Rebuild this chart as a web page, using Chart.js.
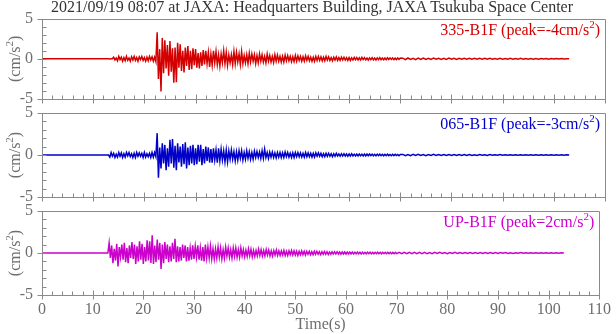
<!DOCTYPE html>
<html><head><meta charset="utf-8">
<script src="https://cdn.jsdelivr.net/npm/chart.js@4"></script>
<style>
html,body{margin:0;padding:0;background:#fff;width:616px;height:334px;overflow:hidden}
#wrap{position:relative;width:616px;height:334px}
canvas{position:absolute;left:0;top:0}
#title{position:absolute;left:4px;top:-2px;width:616px;text-align:center;font:16px "Liberation Serif";color:#333;white-space:nowrap}
</style></head><body>
<div id="wrap">
<canvas id="c0" width="616" height="334"></canvas>
<canvas id="c1" width="616" height="334"></canvas>
<canvas id="c2" width="616" height="334"></canvas>
<div id="title">2021/09/19 08:07 at JAXA: Headquarters Building, JAXA Tsukuba Space Center</div>
</div>
<script>
// ---- data ----
const panelNames = ['335-B1F', '065-B1F', 'UP-B1F'];
const panelPeaks = [-4, -3, 2];
const xTickValues = [0, 10, 20, 30, 40, 50, 60, 70, 80, 90, 100, 110];
const yTickValues = [-5, 0, 5];
// samples: dense part starts at 12 s every 0.25 s (to 70 s), tail part starts at 70.5 s every 0.5 s
const denseStart = 12, denseStep = 0.25, tailStart = 70.5, tailStep = 0.5;

const redDense = [
  0,0,0.01,0, 0,-0.01,0.02,0,
  0.2,-0.15,0.1,-0.25, 0.3,-0.1,0.2,-0.3, 0.15,-0.25,0.3,-0.2, 0.1,-0.3,0.25,-0.15,
  0.3,-0.2,0.15,-0.3, 0.25,-0.1,0.3,-0.2, 0.15,-0.3,0.2,-0.25, 0.3,-0.15,0.25,-0.3,
  0.2,-0.35,3.3,-2.5, 1.2,-4.05,2.6,-1.8, 2.3,-1.2,1.7,-2.1, 2.2,-1.6,1.3,-2.97,
  1.4,-2.9,2.0,-1.1, 1.8,-1.5,1.0,-1.7, 1.4,-0.9,1.6,-1.4, 1.0,-1.3,1.3,-0.8,
  1.2,-1.1,0.7,-1.2, 0.8,-0.9,1.1,-0.7, 1.0,-0.6,0.8,-1.0, 0.6,-0.8,1.0,-0.5,
  0.9,-0.7,0.5,-0.9, 0.6,-0.5,1.0,-0.6, 0.8,-0.8,0.5,-0.5, 0.5,-0.7,0.9,-0.6,
  0.8,-0.4,0.6,-0.7, 0.9,-0.6,0.4,-0.5, 0.5,-0.6,0.7,-0.4, 0.6,-0.3,0.5,-0.6,
  0.4,-0.5,0.6,-0.3, 0.5,-0.4,0.3,-0.5, 0.6,-0.3,0.4,-0.4, 0.3,-0.45,0.5,-0.3,
  0.45,-0.3,0.3,-0.4, 0.3,-0.4,0.45,-0.25, 0.4,-0.25,0.3,-0.35, 0.25,-0.35,0.4,-0.3,
  0.35,-0.2,0.3,-0.3, 0.25,-0.3,0.35,-0.2, 0.3,-0.25,0.2,-0.3, 0.2,-0.3,0.3,-0.2,
  0.3,-0.2,0.25,-0.25, 0.2,-0.25,0.3,-0.15, 0.25,-0.2,0.15,-0.25, 0.2,-0.15,0.25,-0.2,
  0.15,-0.2,0.2,-0.15, 0.2,-0.15,0.15,-0.2, 0.15,-0.2,0.12,-0.15, 0.18,-0.12,0.15,-0.15,
  0.12,-0.15,0.18,-0.1, 0.15,-0.12,0.1,-0.15, 0.12,-0.1,0.15,-0.12, 0.1,-0.15,0.12,-0.1,
  0.15,-0.1,0.1,-0.12, 0.1,-0.12,0.12,-0.08, 0.12,-0.08,0.1,-0.1, 0.08,-0.1,0.1,-0.08,
  0.1
];
const redTail = [
  0.08,-0.1,0.1,-0.08,0.07,-0.1,0.08,-0.07,0.1,-0.08,
  0.07,-0.08,0.08,-0.06,0.07,-0.08,0.06,-0.07,0.08,-0.06,
  0.06,-0.07,0.05,-0.06,0.07,-0.05,0.06,-0.06,0.05,-0.06,
  0.05,-0.05,0.06,-0.04,0.05,-0.05,0.04,-0.05,0.05,-0.04,
  0.04,-0.05,0.05,-0.04,0.04,-0.04,0.05,-0.04,0.04,-0.04,
  0.04,-0.04,0.03,-0.04,0.04,-0.03,0.03,-0.04,0.03,-0.03,
  0.03,-0.03,0.03,-0.02,0.02,0
];
const blueDense = [
  0,0,0.01,0, 0,-0.25,0.3,-0.15,
  0.2,-0.3,0.1,-0.25, 0.3,-0.15,0.25,-0.3, 0.15,-0.25,0.3,-0.1, 0.3,-0.2,0.15,-0.3,
  0.2,-0.3,0.3,-0.15, 0.25,-0.15,0.2,-0.3, 0.3,-0.25,0.15,-0.2, 0.2,-0.3,0.3,-0.25,
  0.3,-0.2,2.6,-2.7, 0.9,-1.6,1.4,-1.0, 1.2,-1.8,0.8,-1.4, 1.8,-1.0,1.9,-1.5,
  1.1,-1.8,1.4,-0.9, 1.0,-1.4,1.3,-1.1, 1.5,-1.6,0.9,-1.2, 1.1,-1.0,1.2,-1.2,
  0.8,-1.1,1.2,-0.8, 1.2,-1.2,0.7,-1.0, 1.0,-0.7,0.9,-0.9, 0.7,-0.9,0.8,-0.6,
  0.6,-0.9,0.8,-0.7, 0.7,-0.6,0.5,-0.8, 0.6,-0.8,0.5,-0.5, 0.6,-0.5,0.4,-0.7,
  0.4,-0.6,0.5,-0.4, 0.5,-0.6,0.3,-0.5, 0.5,-0.4,0.4,-0.5, 0.3,-0.5,0.45,-0.3,
  0.4,-0.3,0.35,-0.4, 0.5,-0.4,0.7,-0.3, 0.3,-0.4,0.35,-0.25, 0.35,-0.3,0.25,-0.35,
  0.3,-0.25,0.3,-0.3, 0.25,-0.3,0.35,-0.2, 0.3,-0.25,0.2,-0.3, 0.25,-0.3,0.3,-0.2,
  0.3,-0.2,0.25,-0.25, 0.2,-0.25,0.3,-0.2, 0.25,-0.2,0.2,-0.25, 0.2,-0.25,0.25,-0.15,
  0.25,-0.15,0.2,-0.2, 0.15,-0.2,0.2,-0.15, 0.2,-0.15,0.15,-0.2, 0.15,-0.15,0.2,-0.12,
  0.12,-0.15,0.15,-0.12, 0.15,-0.12,0.12,-0.15, 0.12,-0.12,0.15,-0.1, 0.1,-0.12,0.12,-0.1,
  0.12,-0.1,0.1,-0.12, 0.1,-0.12,0.12,-0.08, 0.12,-0.08,0.1,-0.1, 0.08,-0.1,0.1,-0.08,
  0.1,-0.08,0.08,-0.1, 0.08,-0.08,0.1,-0.07, 0.07,-0.08,0.08,-0.07, 0.08,-0.07,0.07,-0.08,
  0.07
];
const blueTail = [
  0.07,-0.08,0.06,-0.07,0.08,-0.06,0.07,-0.06,0.06,-0.07,
  0.06,-0.06,0.07,-0.05,0.06,-0.06,0.05,-0.06,0.06,-0.05,
  0.05,-0.06,0.05,-0.05,0.06,-0.05,0.05,-0.05,0.04,-0.05,
  0.05,-0.04,0.04,-0.05,0.05,-0.04,0.04,-0.04,0.05,-0.04,
  0.04,-0.04,0.04,-0.03,0.04,-0.04,0.03,-0.04,0.04,-0.03,
  0.03,-0.04,0.03,-0.03,0.04,-0.03,0.03,-0.03,0.03,-0.03,
  0.03,-0.02,0.02,-0.03,0.02,0
];
const magentaDense = [
  0,0,0.01,0, 0,1.2,-0.6,0.9,
  -1.2,0.5,-0.9,1.1, -1.6,0.7,-0.5,1.0, -0.8,1.2,-1.1,0.6, -1.2,0.9,-0.6,1.3,
  -0.7,1.0,-1.3,0.8, -1.0,1.4,-0.8,1.1, -1.3,0.7,-1.0,1.5, -0.9,1.4,-1.2,2.1,
  -1.3,0.9,-1.1,1.6, -0.8,1.2,-1.9,1.0, -1.2,1.3,-0.7,1.0, -1.1,0.8,-1.0,1.2,
  -0.7,1.7,-1.1,0.8, -1.0,0.7,-0.9,1.0, -0.6,0.9,-1.0,0.7, -0.9,0.6,-0.8,0.9,
  -0.7,0.8,-0.5,0.9, -0.8,0.6,-0.9,0.7, -1.0,1.0,-0.6,0.7, -0.6,0.8,-0.7,0.5,
  -0.7,0.5,-0.6,0.7, -0.5,0.6,-0.7,0.4, -0.6,0.7,-0.4,0.6, -0.5,0.4,-0.6,0.6,
  -0.4,0.6,-0.5,0.4, -0.5,0.6,-0.35,0.4, -0.45,0.35,-0.4,0.5, -0.35,0.45,-0.45,0.3,
  -0.4,0.3,-0.35,0.45, -0.3,0.4,-0.35,0.3, -0.35,0.4,-0.25,0.35, -0.35,0.25,-0.35,0.3,
  -0.25,0.35,-0.3,0.25, -0.3,0.25,-0.25,0.3, -0.3,0.2,-0.3,0.25, -0.2,0.3,-0.25,0.25,
  -0.25,0.2,-0.3,0.2, -0.2,0.25,-0.2,0.2, -0.25,0.2,-0.15,0.2, -0.2,0.15,-0.2,0.2,
  -0.15,0.2,-0.15,0.15, -0.2,0.15,-0.15,0.18, -0.15,0.15,-0.18,0.12, -0.15,0.15,-0.12,0.15,
  -0.12,0.15,-0.12,0.12, -0.15,0.12,-0.12,0.12, -0.12,0.12,-0.1,0.12, -0.12,0.1,-0.12,0.1,
  -0.1,0.12,-0.1,0.1, -0.12,0.1,-0.1,0.08, -0.1,0.1,-0.08,0.1, -0.1,0.08,-0.1,0.08,
  -0.08,0.1,-0.08,0.08, -0.1,0.08,-0.08,0.08, -0.08,0.08,-0.07,0.08, -0.08,0.07,-0.08,0.07,
  -0.08
];
const magentaTail = [
  0.08,-0.07,0.08,-0.08,0.07,-0.08,0.07,-0.07,0.08,-0.07,
  0.07,-0.07,0.06,-0.07,0.07,-0.06,0.07,-0.06,0.06,-0.07,
  0.06,-0.06,0.07,-0.06,0.06,-0.06,0.05,-0.06,0.06,-0.05,
  0.05,-0.06,0.05,-0.05,0.06,-0.05,0.05,-0.05,0.05,-0.05,
  0.05,-0.04,0.05,-0.05,0.04,-0.05,0.04,-0.04,0.05,-0.04,
  0.04,-0.04,0.04,-0.04,0.04,-0.03,0.04,-0.04,0.03,-0.04,
  0.03,-0.03,0.03,-0.03,0.02,0
];

// ---- layout / style ----
const denseSeries = [redDense, blueDense, magentaDense];
const tailSeries = [redTail, blueTail, magentaTail];
const lineColors = ['#d40000', '#0000c8', '#cc00cc'];
const panelTops = [15, 113, 211];
const panelBottoms = [99, 197, 295];
const FONT = 'Liberation Serif';
const TXT = '#6e6e6e';

function drawSup(ctx, main, sup, end, size, x, y) {
  ctx.font = size + 'px "' + FONT + '"';
  const wMain = ctx.measureText(main).width;
  const wEnd = ctx.measureText(end).width;
  ctx.font = Math.round(size * 0.68) + 'px "' + FONT + '"';
  const wSup = ctx.measureText(sup).width;
  ctx.textAlign = 'left';
  ctx.textBaseline = 'alphabetic';
  ctx.font = size + 'px "' + FONT + '"';
  ctx.fillText(main, x, y);
  ctx.font = Math.round(size * 0.68) + 'px "' + FONT + '"';
  ctx.fillText(sup, x + wMain, y - size * 0.42);
  ctx.font = size + 'px "' + FONT + '"';
  ctx.fillText(end, x + wMain + wSup, y);
  return wMain + wSup + wEnd;
}
function measureSup(ctx, main, sup, end, size) {
  ctx.font = size + 'px "' + FONT + '"';
  const a = ctx.measureText(main).width + ctx.measureText(end).width;
  ctx.font = Math.round(size * 0.68) + 'px "' + FONT + '"';
  return a + ctx.measureText(sup).width;
}

const framePlugin = {
  id: 'frame',
  afterDatasetsDraw(chart, args, opts) {
    const i = opts.index;
    const ctx = chart.ctx, a = chart.chartArea;
    const xs = chart.scales.x, ys = chart.scales.y;
    ctx.save();
    ctx.strokeStyle = '#8a8a8a';
    ctx.lineWidth = 1;
    const L = Math.round(a.left) + 0.5, R = Math.round(a.right) + 0.5;
    const T = Math.round(a.top) + 0.5, B = Math.round(a.bottom) + 0.5;
    ctx.beginPath();
    ctx.rect(L, T, R - L, B - T);
    for (let v = -5; v <= 5; v++) {
      const py = Math.round(ys.getPixelForValue(v)) + 0.5;
      if (v % 5 === 0) { ctx.moveTo(L - 5, py); ctx.lineTo(L + 4, py); }
      else { ctx.moveTo(L, py); ctx.lineTo(L + 4, py); }
    }
    for (let t = 0; t <= 110; t += 2) {
      const px = Math.round(xs.getPixelForValue(t)) + 0.5;
      if (t % 10 === 0) { ctx.moveTo(px, B + 4); ctx.lineTo(px, B - 5); }
      else { ctx.moveTo(px, B); ctx.lineTo(px, B - 4); }
    }
    ctx.stroke();
    // corner label
    ctx.fillStyle = lineColors[i];
    const main = panelNames[i] + ' (peak=' + panelPeaks[i] + 'cm/s';
    const w = measureSup(ctx, main, '2', ')', 16);
    drawSup(ctx, main, '2', ')', 16, a.right - 5 - w, a.top + 16);
    // y title
    ctx.fillStyle = TXT;
    const cy = (a.top + a.bottom) / 2;
    ctx.translate(20, cy);
    ctx.rotate(-Math.PI / 2);
    const wt = measureSup(ctx, '(cm/s', '2', ')', 16);
    drawSup(ctx, '(cm/s', '2', ')', 16, -wt / 2, 0);
    ctx.restore();
  }
};

function makeChart(i) {
  const pts = [{x: 0, y: 0}];
  denseSeries[i].forEach((v, k) => pts.push({x: denseStart + k * denseStep, y: v}));
  tailSeries[i].forEach((v, k) => pts.push({x: tailStart + k * tailStep, y: v}));
  const last = i === 2;
  const font = {family: FONT, size: 16};
  new Chart(document.getElementById('c' + i), {
    type: 'line',
    data: {datasets: [{data: pts, borderColor: lineColors[i], borderWidth: 1.5, pointRadius: 0, tension: 0, fill: false, borderJoinStyle: 'miter'}]},
    options: {
      responsive: false, animation: false, devicePixelRatio: 1, events: [],
      plugins: {legend: {display: false}, tooltip: {enabled: false}, frame: {index: i}},
      layout: {padding: {top: panelTops[i], bottom: last ? 0 : 334 - panelBottoms[i], left: 0, right: 11}},
      scales: {
        x: {
          type: 'linear', min: 0, max: 110, display: last,
          grid: {display: false, drawTicks: false}, border: {display: false},
          afterBuildTicks(s) { s.ticks = xTickValues.map(v => ({value: v})); },
          ticks: {color: TXT, font: font, padding: 5, maxRotation: 0, autoSkip: false},
          title: {display: true, text: 'Time(s)', color: TXT, font: font, padding: {top: 0, bottom: 0}},
          afterFit(s) { if (last) s.height = 334 - panelBottoms[2]; }
        },
        y: {
          min: -5, max: 5,
          grid: {display: false, drawTicks: false}, border: {display: false},
          afterBuildTicks(s) { s.ticks = yTickValues.map(v => ({value: v})); },
          ticks: {color: TXT, font: font, padding: 9},
          afterFit(s) { s.width = 42; }
        }
      }
    },
    plugins: [framePlugin]
  });
}
[0, 1, 2].forEach(makeChart);
</script>
</body></html>
